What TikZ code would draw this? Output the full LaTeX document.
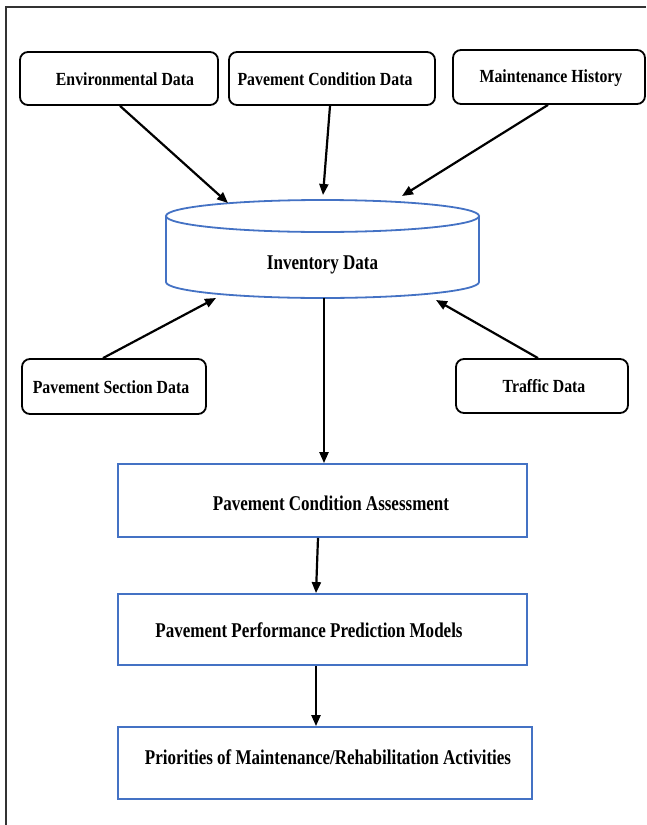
\documentclass[tikz,border=0pt]{standalone}
\usepackage{fontspec}
\setmainfont{Liberation Serif}
\usetikzlibrary{arrows.meta}
\definecolor{boxblue}{HTML}{4472C4}
\newcommand{\lbltxt}[1]{\scalebox{0.855}[1]{\bfseries #1}}
\newcommand{\biglbltxt}[1]{\scalebox{0.81}[1]{\bfseries #1}}
\begin{document}
\begin{tikzpicture}[x=1pt,y=-1pt,
  databox/.style={draw=black, line width=1.8pt, rounded corners=8pt, inner sep=0pt},
  stagebox/.style={draw=boxblue, line width=1.8pt, inner sep=0pt},
  txt/.style={font=\fontsize{18.5}{20}\selectfont, inner sep=0pt},
  bigtxt/.style={font=\fontsize{21}{23}\selectfont, inner sep=0pt},
  flow/.style={line width=2.2pt, -{Triangle[length=11pt,width=9pt]}},
]
\useasboundingbox (0,0) rectangle (646,825);
\draw[line width=1.4pt, black!80] (646,7) -- (6,7) -- (6,825);

% input data boxes
\node[databox, minimum width=198pt, minimum height=53pt,
  label={[txt, xshift=6pt, yshift=-0.5pt]center:\lbltxt{Environmental Data}}] (env) at (119,78.5) {};
\node[databox, minimum width=206pt, minimum height=53pt,
  label={[txt, xshift=-7pt, yshift=-0.5pt]center:\lbltxt{Pavement Condition Data}}] (pcd) at (332,78.5) {};
\node[databox, minimum width=192pt, minimum height=54pt,
  label={[txt, xshift=2pt, yshift=-1pt]center:\lbltxt{Maintenance History}}] (mh) at (549,77) {};
\node[databox, minimum width=184pt, minimum height=55pt,
  label={[txt, xshift=-3pt, yshift=-1pt]center:\lbltxt{Pavement Section Data}}] (psd) at (114,386.5) {};
\node[databox, minimum width=172pt, minimum height=54pt,
  label={[txt, xshift=2pt]center:\lbltxt{Traffic Data}}] (tr) at (542,386) {};

% cylinder
\draw[boxblue, line width=1.8pt] (166,216) -- (166,282)
  arc[start angle=180, end angle=360, x radius=156.5pt, y radius=16pt]
  -- (479,216);
\draw[boxblue, line width=1.8pt] (322.5,216) ellipse [x radius=156.5pt, y radius=16pt];
\node[bigtxt] (inv) at (322.5,265) {\biglbltxt{Inventory Data}};
\coordinate (invTL) at (228,203);
\coordinate (invT) at (323,195);
\coordinate (invTR) at (402,196);
\coordinate (invBL) at (216,298);
\coordinate (invBR) at (436,300);
\coordinate (invB) at (324,298);

% process boxes
\node[stagebox, minimum width=409pt, minimum height=73pt,
  label={[bigtxt, xshift=8.5pt, yshift=-3pt]center:\biglbltxt{Pavement Condition Assessment}}] (pca) at (322.5,500.5) {};
\node[stagebox, minimum width=409pt, minimum height=71pt,
  label={[bigtxt, xshift=-13.5pt, yshift=-1pt]center:\biglbltxt{Pavement Performance Prediction Models}}] (pppm) at (322.5,629.5) {};
\node[stagebox, minimum width=414pt, minimum height=72pt,
  label={[bigtxt, xshift=3pt, yshift=6pt]center:\biglbltxt{Priorities of Maintenance/Rehabilitation Activities}}] (prio) at (325,763) {};

% connectors
\draw[flow] ([xshift=1pt]env.south) -- (invTL);
\draw[flow] ([xshift=-2pt]pcd.south) -- (invT);
\draw[flow] ([xshift=-1pt]mh.south) -- (invTR);
\draw[flow] ([xshift=-11pt]psd.north) -- (invBL);
\draw[flow] ([xshift=-4pt]tr.north) -- (invBR);
\draw[flow] (invB) -- (invB |- pca.north);
\draw[flow] ([xshift=-4.5pt]pca.south) -- ([xshift=-6.5pt]pppm.north);
\draw[flow] ([xshift=-6.5pt]pppm.south) -- ([xshift=-9pt]prio.north);
\end{tikzpicture}
\end{document}
